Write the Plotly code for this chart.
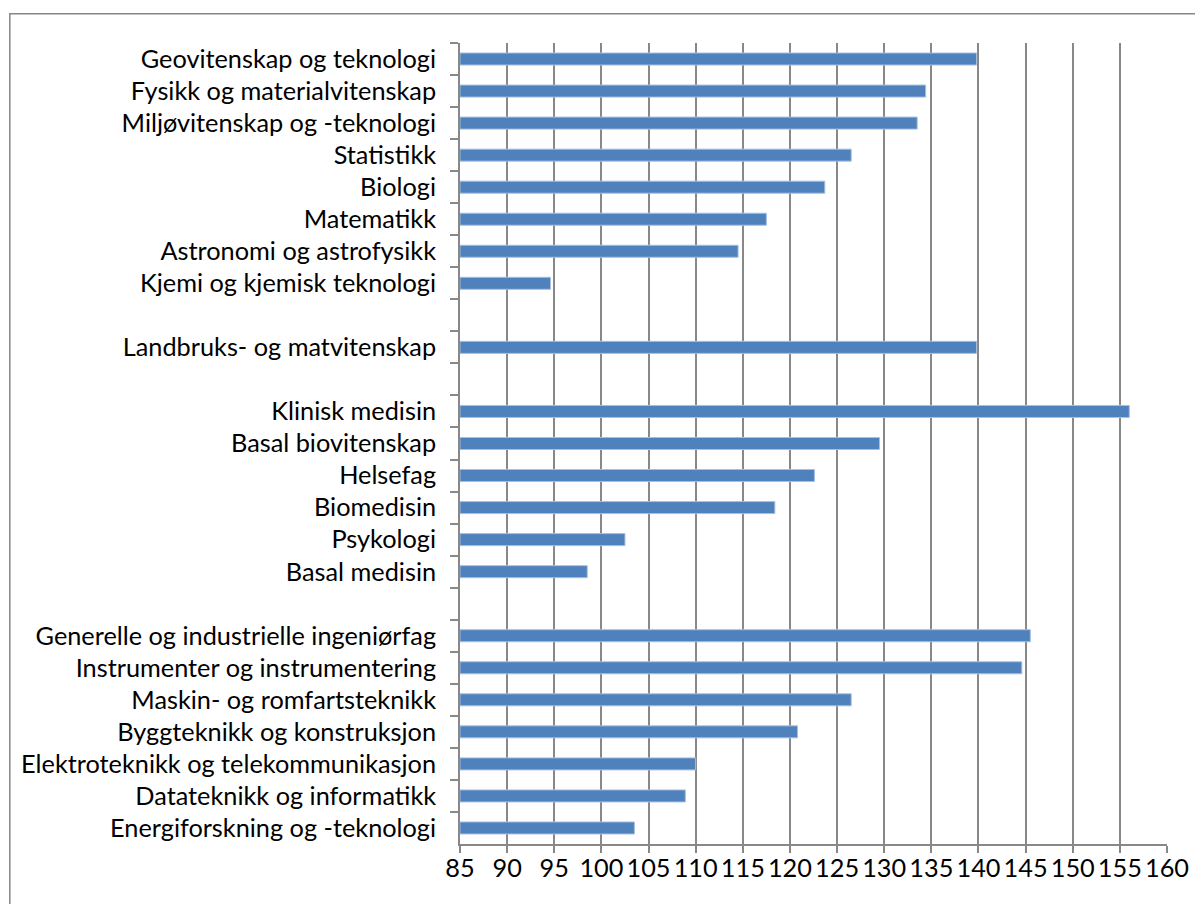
import plotly.graph_objects as go

# Categories top to bottom; blank strings are the empty separator slots
categories = [
    "Geovitenskap og teknologi",
    "Fysikk og materialvitenskap",
    "Miljøvitenskap og -teknologi",
    "Statistikk",
    "Biologi",
    "Matematikk",
    "Astronomi og astrofysikk",
    "Kjemi og kjemisk teknologi",
    " ",
    "Landbruks- og matvitenskap",
    "  ",
    "Klinisk medisin",
    "Basal biovitenskap",
    "Helsefag",
    "Biomedisin",
    "Psykologi",
    "Basal medisin",
    "   ",
    "Generelle og industrielle ingeniørfag",
    "Instrumenter og instrumentering",
    "Maskin- og romfartsteknikk",
    "Byggteknikk og konstruksjon",
    "Elektroteknikk og telekommunikasjon",
    "Datateknikk og informatikk",
    "Energiforskning og -teknologi",
]
values = [
    139.8, 134.4, 133.5, 126.5, 123.7, 117.5, 114.5, 94.6,
    None,
    139.8,
    None,
    156.0, 129.5, 122.6, 118.4, 102.5, 98.5,
    None,
    145.5, 144.6, 126.5, 120.8, 110.0, 108.9, 103.5,
]
x_min, x_max = 85, 160
x_ticks = list(range(x_min, x_max + 1, 5))

# page body has an 8px margin; figure is sized to fit the window
OFF = 8
W, H = 1203 - OFF, 904 - OFF
ML = 460 - OFF
MR = W - (1167.5 - OFF)
MT = 42.7 - OFF
MB = H - (844 - OFF)
PW, PH = W - ML - MR, H - MT - MB

GRID = "#888888"
FONT = "Lato"
FS = 25.3

fig = go.Figure(
    go.Bar(
        y=categories,
        x=[None if v is None else v - x_min for v in values],
        base=x_min,
        orientation="h",
        marker=dict(color="#4F81BD", line=dict(color="#A7C0E0", width=1)),
        customdata=values,
        hovertemplate="%{y}: %{customdata}<extra></extra>",
    )
)

def px2paper_x(px):
    return (px - OFF - ML) / PW

def px2paper_y(py):
    return 1 - (py - OFF - MT) / PH

fig.update_layout(
    width=W,
    height=H,
    margin=dict(l=ML, r=MR, t=MT, b=MB, pad=0),
    paper_bgcolor="white",
    plot_bgcolor="white",
    bargap=0.625,
    showlegend=False,
    font=dict(family=FONT, size=FS, color="black"),
    xaxis=dict(
        range=[x_min, x_max],
        tickvals=x_ticks,
        ticktext=[str(t) for t in x_ticks],
        showgrid=True,
        gridcolor=GRID,
        gridwidth=1.7,
        zeroline=False,
        showline=True,
        linecolor=GRID,
        linewidth=1.7,
        ticks="outside",
        ticklen=7,
        tickwidth=1.7,
        tickcolor=GRID,
        ticklabelstandoff=-6,
        tickfont=dict(family=FONT, size=FS, color="black"),
        fixedrange=True,
    ),
    yaxis=dict(
        type="category",
        categoryorder="array",
        categoryarray=categories,
        autorange="reversed",
        tickson="boundaries",
        showgrid=False,
        showline=True,
        linecolor=GRID,
        linewidth=1.7,
        ticks="outside",
        ticklen=8,
        tickwidth=1.7,
        tickcolor=GRID,
        ticklabelstandoff=17,
        tickfont=dict(family=FONT, size=FS, color="black"),
        fixedrange=True,
    ),
    shapes=[
        dict(
            type="rect",
            xref="paper",
            yref="paper",
            x0=px2paper_x(9.5),
            x1=px2paper_x(1260),
            y0=px2paper_y(960),
            y1=px2paper_y(13.5),
            line=dict(color="#878787", width=1.5),
            fillcolor="rgba(0,0,0,0)",
            layer="below",
        )
    ],
)

fig.write_html("out.html")
